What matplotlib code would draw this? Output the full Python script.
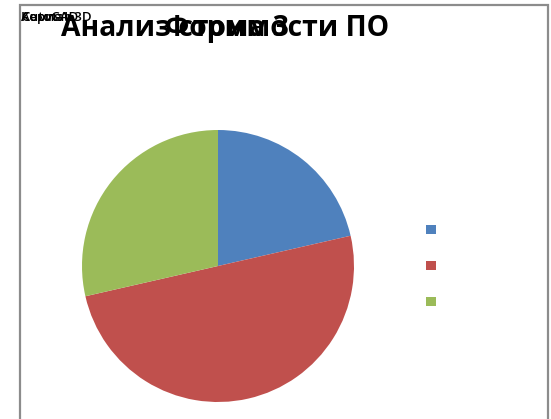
import matplotlib
matplotlib.use("Agg")
import matplotlib.pyplot as plt
from matplotlib.patches import Rectangle

categories = ["Компас 3D", "AutoCAD", "Серия1"]
values = [3, 7, 4]
colors = ["#4F81BD", "#C0504D", "#9BBB59"]
title_main = "Анализ стоимости ПО"
title_overlay = "Форма 3"

W, H = 551, 419
fig = plt.figure(figsize=(W / 100, H / 100), dpi=100)
plt.rcParams['font.family'] = ['Open Sans', 'DejaVu Sans']

# frame
fig.patches.append(Rectangle((20 / W, -0.05), (548 - 20) / W, (419 - 5) / H + 0.05,
                             transform=fig.transFigure, fill=False,
                             edgecolor="#8c8c8c", linewidth=1.6))

# pie axes
cx, cy, r = 218, 266, 136
ax = fig.add_axes([(cx - r) / W, (H - cy - r) / H, 2 * r / W, 2 * r / H])
wedges, _ = ax.pie(values, colors=colors, startangle=90, counterclock=False,
                   radius=1.0, wedgeprops=dict(linewidth=0))
ax.set_xlim(-1, 1)
ax.set_ylim(-1, 1)
ax.set_aspect("equal")
ax.axis("off")

# legend (markers only, labels blank as in the reference)
leg = fig.legend(wedges, ["" for _ in categories], loc="upper left",
                 bbox_to_anchor=(426 / W, 1 - 225 / H), frameon=False,
                 fontsize=7.2, handlelength=1.0, handleheight=1.0,
                 labelspacing=2.5, handletextpad=0.3, borderpad=0, borderaxespad=0)

# overlapping category labels at top-left
for c in categories:
    fig.text(21 / W, 1 - 21 / H, c, fontsize=9.5, fontweight="semibold",
             ha="left", va="baseline", color="black")

# overlapping titles
fig.text(225 / W, 1 - 36 / H, title_main, fontsize=20.3, fontweight="bold",
         ha="center", va="baseline")
fig.text(227 / W, 1 - 36 / H, title_overlay, fontsize=20.3, fontweight="bold",
         ha="center", va="baseline")

fig.savefig("out.png", dpi=100)
